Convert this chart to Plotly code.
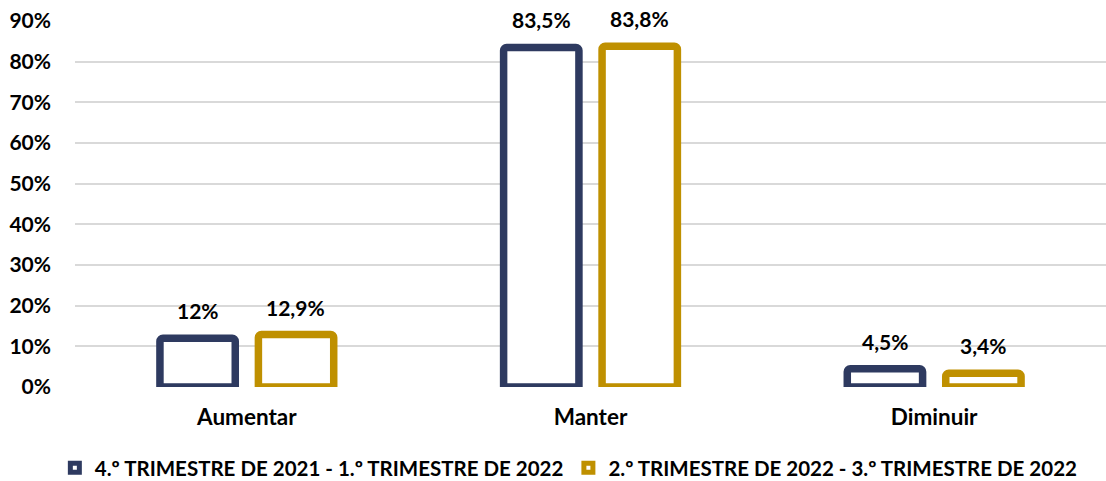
import plotly.graph_objects as go

categories = ["Aumentar", "Manter", "Diminuir"]
series_names = ["4.º TRIMESTRE DE 2021 - 1.º TRIMESTRE DE 2022",
                "2.º TRIMESTRE DE 2022 - 3.º TRIMESTRE DE 2022"]
series_values = [[12, 83.5, 4.5], [12.9, 83.8, 3.4]]
colors = ["#2E3A60", "#BF9000"]
y_ticks = [0, 10, 20, 30, 40, 50, 60, 70, 80, 90]
y_tick_labels = [f"{t}%" for t in y_ticks]

FONT = "Lato"
BOLD = dict(family=FONT, color="black", weight="bold")

def fmt(v):
    return f"{v:g}".replace(".", ",") + "%"

fig = go.Figure()
offsets = [-49, 49]
for name, vals, col, off in zip(series_names, series_values, colors, offsets):
    fig.add_trace(go.Bar(
        x=categories, y=vals, name=name, showlegend=False,
        marker=dict(color="white", line=dict(color=col, width=7.5)),
        cliponaxis=True,
    ))
    for c, v in zip(categories, vals):
        fig.add_annotation(x=c, y=v, text=fmt(v), showarrow=False,
                           xshift=off, yshift=13, yanchor="bottom",
                           font=dict(size=21, **BOLD))
    # legend entry
    fig.add_trace(go.Scatter(
        x=[None], y=[None], mode="markers", name=name,
        marker=dict(symbol="square", size=9, color="white",
                    line=dict(color=col, width=5)),
    ))

fig.update_layout(
    width=1106, height=481,
    margin=dict(l=75, r=0, t=21, b=94, autoexpand=False),
    plot_bgcolor="white", paper_bgcolor="white",
    barmode="group", bargap=0.427, bargroupgap=0.235,
    barcornerradius=3,
    font=dict(size=21, **BOLD),
    showlegend=True,
    legend=dict(orientation="h", x=0.479, xanchor="center",
                y=-0.221, yanchor="middle",
                font=dict(size=20.5, **BOLD), itemwidth=30, tracegroupgap=0),
)
fig.update_yaxes(range=[0, 90], tickvals=y_ticks, ticktext=y_tick_labels,
                 showgrid=True, gridcolor="#D9D9D9", gridwidth=1.5,
                 zeroline=False, showline=False, automargin=False,
                 ticklabelstandoff=23,
                 tickfont=dict(size=21, **BOLD))
fig.update_xaxes(showline=False, ticklabelstandoff=14, automargin=False,
                 tickfont=dict(size=22.5, **BOLD))

# remove the browser's default 8px body margin so the figure fills the window
fig.write_html("out.html", config={"displayModeBar": False},
               post_script="document.body.style.margin='0';")
